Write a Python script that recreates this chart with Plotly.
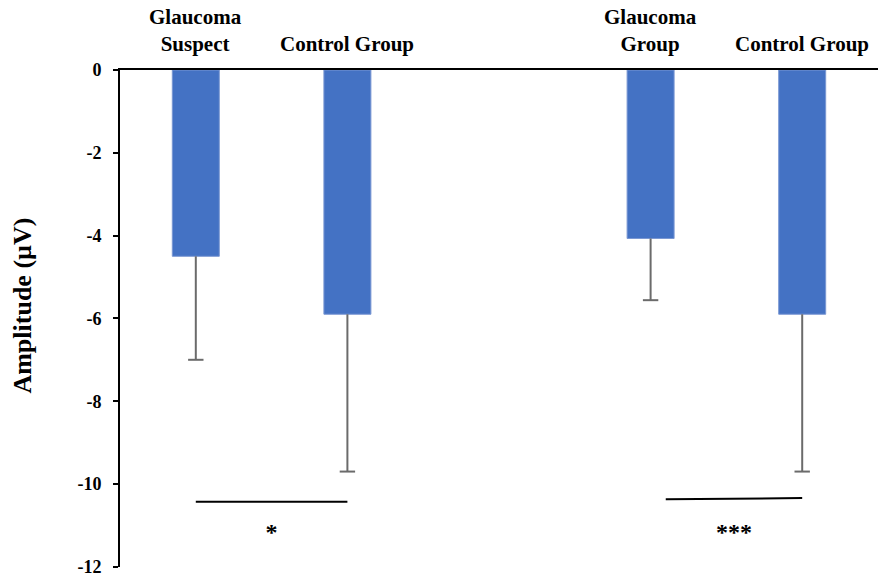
import plotly.graph_objects as go

# ---- data ----
labels = ["Glaucoma<br>Suspect", "Control Group", "Glaucoma<br>Group", "Control Group"]
values = [-4.50, -5.90, -4.07, -5.90]
errors = [2.50, 3.80, 1.49, 3.80]
y_tick_vals = [0, -2, -4, -6, -8, -10, -12]
y_tick_text = ["0", "-2", "-4", "-6", "-8", "-10", "-12"]
sig_x_start = [0.0, 3.1]
sig_x_end = [1.0, 4.0]
sig_y_start = [-10.43, -10.37]
sig_y_end = [-10.43, -10.34]
sig_text = ["*", "***"]
sig_text_y = [-11.2, -11.2]
y_title = "Amplitude (µV)"

# bar positions: two groups of two bars with an empty slot between groups
xpos = [g * 3 + j for g in range(2) for j in range(2)]

FONT = "Liberation Serif"
BLUE = "#4472C4"
GRAY = "#6b6b6b"

fig = go.Figure()

fig.add_trace(go.Bar(
    x=xpos, y=values, width=0.31,
    marker=dict(color=BLUE, line=dict(color="#7b98d3", width=1)),
    error_y=dict(type="data", symmetric=False,
                 array=[0] * len(values), arrayminus=errors,
                 color=GRAY, thickness=2, width=0),
    showlegend=False, hoverinfo="skip",
))

# caps at the lower end of the error bars
fig.add_trace(go.Scatter(
    x=xpos, y=[v - e for v, e in zip(values, errors)], mode="markers",
    marker=dict(symbol="line-ew", size=11, line=dict(color=GRAY, width=2)),
    showlegend=False, hoverinfo="skip",
))

# significance lines and stars
for xs, xe, ys, ye in zip(sig_x_start, sig_x_end, sig_y_start, sig_y_end):
    fig.add_trace(go.Scatter(
        x=[xs, xe], y=[ys, ye], mode="lines",
        line=dict(color="black", width=2),
        showlegend=False, hoverinfo="skip",
    ))

fig.add_trace(go.Scatter(
    x=[(a + b) / 2 for a, b in zip(sig_x_start, sig_x_end)],
    y=sig_text_y, mode="text", text=sig_text,
    textfont=dict(family=FONT, size=24, color="black", weight="bold"),
    showlegend=False, hoverinfo="skip",
))

# category labels above the plot
for x, lab in zip(xpos, labels):
    fig.add_annotation(
        x=x, xref="x", y=1, yref="paper", yanchor="bottom", xanchor="center",
        yshift=12, text=lab, showarrow=False,
        font=dict(family=FONT, size=21, color="black", weight="bold"),
    )

# y axis title
fig.add_annotation(
    x=(23 - 120) / 758, xref="paper", y=0.526, yref="paper",
    xanchor="center", yanchor="middle", textangle=-90,
    text=y_title, showarrow=False,
    font=dict(family=FONT, size=26, color="black", weight="bold"),
)

fig.update_layout(
    width=878, height=577,
    margin=dict(l=120, r=0, t=70, b=10),
    paper_bgcolor="white", plot_bgcolor="white",
    xaxis=dict(range=[-0.5, 4.5], side="top", showline=True, linecolor="black",
               linewidth=2, showticklabels=False, ticks="", showgrid=False,
               zeroline=False, fixedrange=True),
    yaxis=dict(range=[-12.005, 0], tickvals=y_tick_vals, ticktext=y_tick_text,
               ticks="outside", ticklen=5, tickwidth=1.5, tickcolor="black",
               showline=True, linecolor="black", linewidth=2, showgrid=False,
               zeroline=False, ticklabelstandoff=8, ticklabeloverflow="allow",
               tickfont=dict(family=FONT, size=18, color="black", weight="bold")),
)

fig.write_html("out.html")
